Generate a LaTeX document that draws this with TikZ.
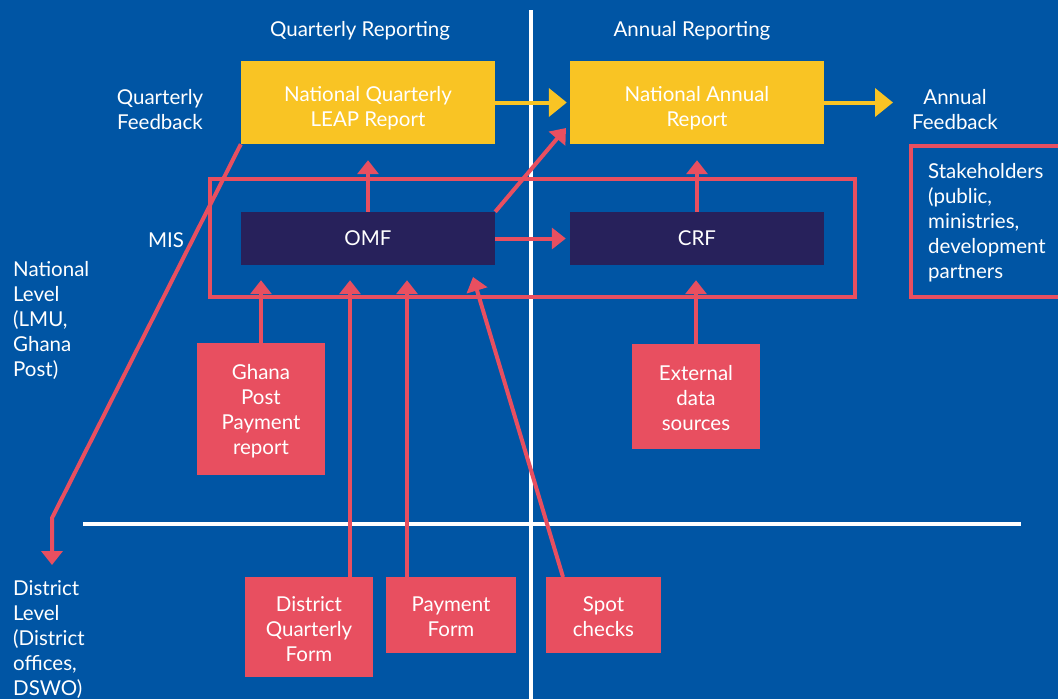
\documentclass[tikz,border=0pt]{standalone}
\usepackage{fontspec}
\setmainfont{Lato}
\usetikzlibrary{arrows.meta,calc}
\definecolor{bg}{HTML}{0055A4}
\definecolor{yel}{HTML}{F9C424}
\definecolor{navy}{HTML}{27215B}
\definecolor{redc}{HTML}{E84F60}
\begin{document}
\begin{tikzpicture}[x=1pt,y=-1pt,
  every node/.style={font=\fontsize{20.5}{25}\selectfont, text=white},
  ybox/.style={fill=yel, minimum width=254pt, minimum height=83pt, inner sep=0pt, align=center},
  nbox/.style={fill=navy, minimum width=254pt, minimum height=53pt, inner sep=0pt},
  rbox/.style={fill=redc, inner sep=0pt, align=center},
  rarrow/.style={draw=redc, line width=4pt, -{Triangle[width=21pt,length=14pt]}},
  rline/.style={draw=redc, line width=4pt},
  yarrow/.style={draw=yel, line width=4pt, -{Triangle[width=28pt,length=18pt]}},
  wline/.style={draw=white, line width=4pt},
  lbl/.style={align=left, inner sep=0pt, anchor=west},
  clbl/.style={align=center, inner sep=0pt},
]
\fill[bg] (0,0) rectangle (1058,699);
\useasboundingbox (0,0) rectangle (1058,699);

% divider lines
\coordinate (vtop) at (531,10);
\coordinate (vbot) at (531,699);
\coordinate (hl) at (83,524);
\coordinate (hr) at (1021,524);
\draw[wline] (vtop) -- (vbot);
\draw[wline] (hl) -- (hr);

% headers and labels
\node[clbl] (qrep) at (360,31) {Quarterly Reporting};
\node[clbl] (arep) at (692,31) {Annual Reporting};
\node[clbl] (qfb) at (160,110) {Quarterly\\Feedback};
\node[clbl] (afb) at (955,109.5) {Annual\\Feedback};
\node[clbl] (mis) at (166,240) {MIS};
\node[lbl] (natl) at (13,320) {National\\Level\\(LMU,\\Ghana\\Post)};
\node[lbl] (dist) at (13,640) {District\\Level\\(District\\offices,\\DSWO)};

% boxes
\node[ybox] (nq) at (368,102.5) {\rule{0pt}{27pt}National Quarterly\\LEAP Report};
\node[ybox] (na) at (697,102.5) {\rule{0pt}{27pt}National Annual\\Report};
\node[nbox] (omf) at (368,238.5) {OMF};
\node[nbox] (crf) at (697,238.5) {CRF};
\node[draw=redc, line width=4pt, minimum width=645pt, minimum height=118pt, inner sep=0pt] (misframe) at (532.5,238) {};
\node[draw=redc, line width=4pt, minimum width=170pt, minimum height=151pt, inner sep=0pt] (stakebox) at (996,221.5) {};
\node[lbl] (stake) at (928,223) {Stakeholders\\(public,\\ministries,\\development\\partners};

\node[rbox, minimum width=128pt, minimum height=132pt] (gp) at (261,409) {\rule{0pt}{19pt}Ghana\\Post\\Payment\\report};
\node[rbox, minimum width=128pt, minimum height=105pt] (ext) at (696,396.5) {\rule{0pt}{19pt}External\\data\\sources};
\node[rbox, minimum width=128pt, minimum height=100pt] (dqf) at (309,627) {\rule{0pt}{19pt}District\\Quarterly\\Form};
\node[rbox, minimum width=130pt, minimum height=76pt] (pf) at (451,615) {\rule{0pt}{19pt}Payment\\Form};
\node[rbox, minimum width=115pt, minimum height=76pt] (spot) at (603.5,615) {\rule{0pt}{19pt}Spot\\checks};

% yellow arrows
\coordinate (afin) at (893,100);
\draw[yarrow, shorten >=3pt] (nq.east) -- (na.west);
\draw[yarrow] (na.east) -- (na.east -| afin);

% red arrows
\draw[rarrow, shorten >=16pt] (omf.north) -- (nq.south);
\draw[rarrow, shorten >=16pt] (crf.north) -- (na.south);
\draw[rarrow, shorten >=4pt] (omf.east) -- (crf.west);
\coordinate (natip) at (566,128);
\draw[rarrow] (omf.north east) -- (natip);

\coordinate (dbend) at (52,518);
\coordinate (dtip) at (52,565);
\draw[rarrow, line join=round] (nq.south west) -- (dbend) -- (dtip);

\draw[rarrow, shorten >=15pt] (gp.north) -- (gp.north |- omf.south);
\draw[rarrow, shorten >=15pt] (ext.north) -- (ext.north |- crf.south);
\coordinate (dqfs) at (350,577);
\coordinate (pfs) at (407,577);
\draw[rarrow, shorten >=15pt] (dqfs) -- (dqfs |- omf.south);
\draw[rarrow, shorten >=15pt] (pfs) -- (pfs |- omf.south);
\coordinate (spots) at (563,577);
\coordinate (spottip) at (473,277);
\draw[rarrow] (spots) -- (spottip);
\end{tikzpicture}
\end{document}
